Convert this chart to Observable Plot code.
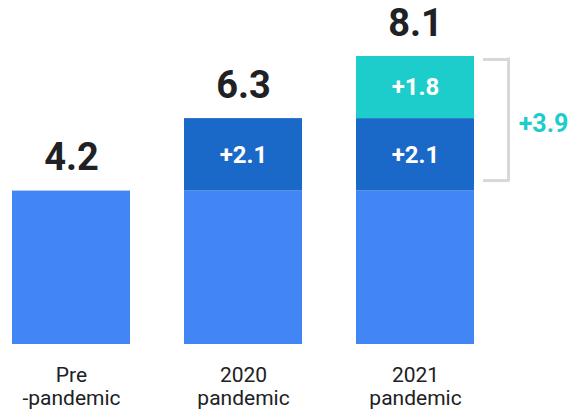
<!DOCTYPE html>
<html>
<head>
<meta charset="utf-8">
<script src="https://cdn.jsdelivr.net/npm/d3@7"></script>
<script src="https://cdn.jsdelivr.net/npm/@observablehq/plot@0.6"></script>
<style>
  html, body { margin: 0; padding: 0; background: #fff; }
  #chart { width: 570px; height: 411px; }
  svg { font-family: Roboto, "Noto Sans", sans-serif; }
</style>
</head>
<body>
<div id="chart"></div>
<script>
// ---- data ----
const categories = ["Pre\n-pandemic", "2020\npandemic", "2021\npandemic"];
const baseValues = [4.2, 4.2, 4.2];
const increase2020 = [0, 2.1, 2.1];
const increase2021 = [0, 0, 1.8];
const totals = [4.2, 6.3, 8.1];
const bracketLabel = "+3.9";
const bracketFrom = 4.2;
const bracketTo = 8.1;

const segmentNames = ["base", "2020", "2021"];
const segmentColors = ["#4285F4", "#1A69C9", "#1DCDCB"];

// build rows with explicit stack extents
const baseRows = categories.map((c, i) => ({cat: c, seg: "base", y1: 0, y2: baseValues[i], v: baseValues[i]}));
const upperRows = [];
categories.forEach((c, i) => {
  let s = baseValues[i];
  [["2020", increase2020[i]], ["2021", increase2021[i]]].forEach(([seg, v]) => {
    if (v > 0) { upperRows.push({cat: c, seg, y1: s, y2: s + v, v}); s += v; }
  });
});
const totalRows = categories.map((c, i) => ({cat: c, total: totals[i]}));
const lastCat = categories[categories.length - 1];

const dark = "#202124";
const teal = "#1DCDCB";
const gray = "#D8D8D8";

const chart = Plot.plot({
  width: 570,
  height: 411,
  marginTop: 56,
  marginBottom: 67,
  marginLeft: 0,
  marginRight: 0,
  x: {type: "band", domain: categories, range: [12, 474], paddingInner: 0.314, paddingOuter: 0},
  y: {domain: [0, 8.1], insetBottom: 8.5, axis: null},
  color: {domain: segmentNames, range: segmentColors},
  marks: [
    Plot.barY(baseRows, {x: "cat", y1: "y1", y2: "y2", fill: "seg", insetBottom: -8.5}),
    Plot.barY(upperRows, {x: "cat", y1: "y1", y2: "y2", fill: "seg"}),
    Plot.text(upperRows, {
      x: "cat", y: d => (d.y1 + d.y2) / 2, text: d => "+" + d.v.toFixed(1),
      fill: "white", fontSize: 24, fontWeight: "bold", lineAnchor: "middle"
    }),
    Plot.text(totalRows, {
      x: "cat", y: "total", text: d => d.total.toFixed(1),
      fill: dark, fontSize: 38, fontWeight: "bold", lineAnchor: "bottom", dy: -21
    }),
    // bracket
    Plot.ruleX([lastCat], {x: d => d, y1: bracketTo, y2: bracketFrom, dx: 93, insetTop: 3, insetBottom: 10.5,
      stroke: gray, strokeWidth: 3, strokeLinecap: "square"}),
    Plot.tickY([bracketTo], {x: () => lastCat, y: d => d, dy: 3, insetLeft: 127, insetRight: -35,
      stroke: gray, strokeWidth: 3}),
    Plot.tickY([bracketFrom], {x: () => lastCat, y: d => d, dy: -10.5, insetLeft: 127, insetRight: -35,
      stroke: gray, strokeWidth: 3}),
    Plot.text([bracketLabel], {x: () => lastCat, y: (bracketFrom + bracketTo) / 2, text: d => d, dx: 128,
      fill: teal, fontSize: 25, fontWeight: "bold", lineAnchor: "middle"}),
    Plot.axisX({tickSize: 0, tickPadding: 21, fontSize: 21, lineHeight: 1.1, lineAnchor: "top", color: dark, label: null})
  ]
});
document.getElementById("chart").appendChild(chart);
</script>
</body>
</html>
